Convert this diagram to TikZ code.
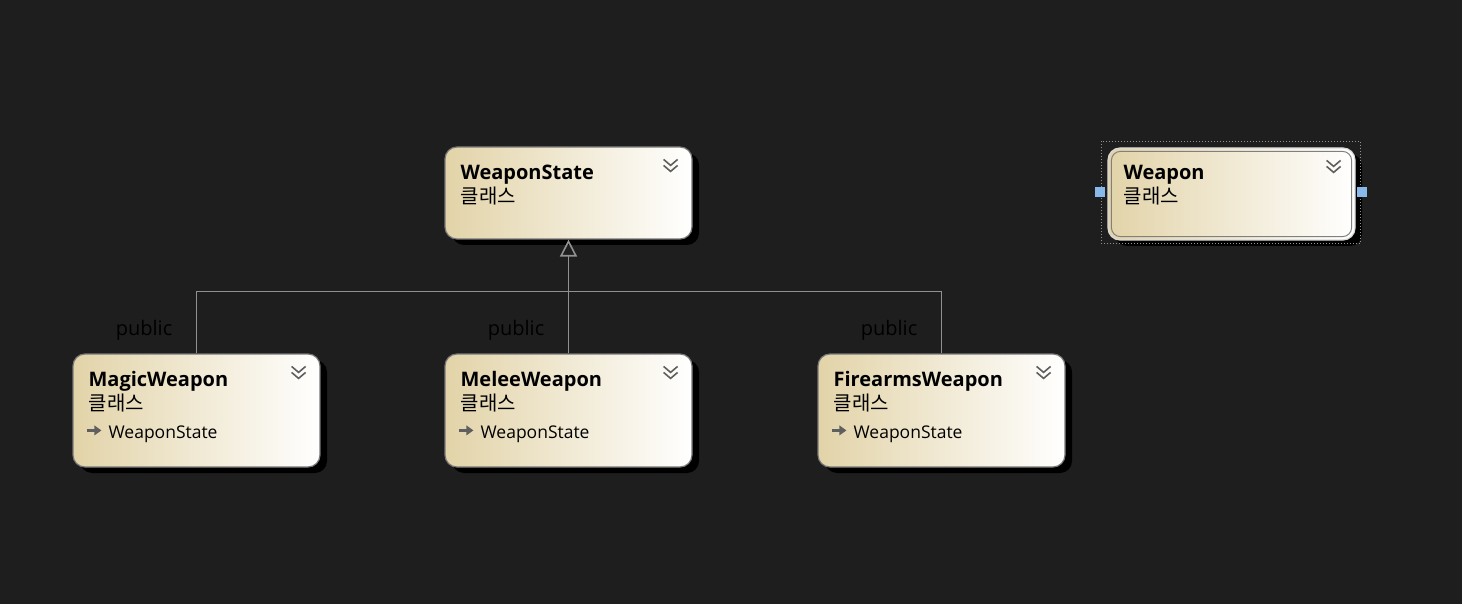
\documentclass[tikz,border=0pt]{standalone}
\usepackage{fontspec}
\setmainfont{Open Sans}
\newfontfamily\kr{Noto Sans CJK KR}
\usetikzlibrary{arrows.meta,calc,shadows,positioning}
\definecolor{bgdark}{RGB}{30,30,30}
\definecolor{boxtan}{RGB}{226,211,168}
\definecolor{edgegray}{RGB}{120,120,120}
\definecolor{linegray}{RGB}{145,145,145}
\definecolor{icongray}{RGB}{95,95,95}
\definecolor{handleblue}{RGB}{135,185,235}
\tikzset{
  classbox/.style={rectangle, rounded corners=12pt, draw=edgegray, line width=1.2pt,
    left color=boxtan, right color=white, minimum width=247pt, inner sep=0pt,
    drop shadow={shadow xshift=7pt, shadow yshift=-6pt, fill=black, opacity=1}},
  classname/.style={anchor=base west, inner sep=0pt, font=\fontsize{20}{23}\selectfont\bfseries},
  kind/.style={anchor=base west, inner sep=0pt, font=\kr\fontsize{20}{23}\selectfont},
  member/.style={anchor=base west, inner sep=0pt, font=\fontsize{17.5}{20}\selectfont},
  pub/.style={anchor=base east, inner sep=0pt, font=\fontsize{20}{23}\selectfont, text=black},
  inherit/.style={draw=linegray, line width=1.6pt},
  handle/.style={rectangle, fill=handleblue, minimum size=10pt, inner sep=0pt},
}
% double chevron in the top right corner of a box
\newcommand\expander[1]{%
  \draw[icongray, line width=1.6pt] ($(#1.north east)+(-29,13)$) -- ++(7,6) -- ++(7,-6)
    ($(#1.north east)+(-29,19)$) -- ++(7,6) -- ++(7,-6);}
% base class marker in front of a member line
\newcommand\baseicon[1]{%
  \draw[icongray, line width=2.6pt] ($(#1.north west)+(15,77)$) -- ++(8,0);
  \fill[icongray] ($(#1.north west)+(22,72)$) -- ++(7,5) -- ++(-7,5) -- cycle;}

\begin{document}
\begin{tikzpicture}[x=1pt,y=-1pt]
    \fill[bgdark] (0,0) rectangle (1462,604);
    \useasboundingbox (0,0) rectangle (1462,604);

    % base class
    \node[classbox, minimum height=92pt] (ws) at (568.5,193) {};
    \node[classname] (wsname) at ($(ws.north west)+(16,33)$) {WeaponState};
    \node[kind] (wskind) at ($(ws.north west)+(16,57)$) {클래스};
    \expander{ws}

    % derived classes
    \node[classbox, minimum height=113pt] (magic) at (196.5,410.5) {};
    \node[classbox, minimum height=113pt] (melee) at (568.5,410.5) {};
    \node[classbox, minimum height=113pt] (fire) at (941.5,410.5) {};
    \node[classname] (magicname) at ($(magic.north west)+(16,33)$) {MagicWeapon};
    \node[classname] (meleename) at ($(melee.north west)+(16,33)$) {MeleeWeapon};
    \node[classname] (firename) at ($(fire.north west)+(16,33)$) {FirearmsWeapon};
    \node[kind] (magickind) at ($(magic.north west)+(16,57)$) {클래스};
    \node[kind] (meleekind) at ($(melee.north west)+(16,57)$) {클래스};
    \node[kind] (firekind) at ($(fire.north west)+(16,57)$) {클래스};
    \node[member] (magicbase) at ($(magic.north west)+(36,85)$) {WeaponState};
    \node[member] (meleebase) at ($(melee.north west)+(36,85)$) {WeaponState};
    \node[member] (firebase) at ($(fire.north west)+(36,85)$) {WeaponState};
    \baseicon{magic}
    \baseicon{melee}
    \baseicon{fire}
    \expander{magic}
    \expander{melee}
    \expander{fire}

    % selected class
    \node[classbox, draw=gray!30, minimum height=92pt] (weapon) at (1231.5,194) {};
    \draw[gray, line width=1pt, rounded corners=9pt] ($(weapon.north west)+(4,4)$) rectangle ($(weapon.south east)+(-4,-4)$);
    \node[classname] (weaponname) at ($(weapon.north west)+(16,32)$) {Weapon};
    \node[kind] (weaponkind) at ($(weapon.north west)+(16,56)$) {클래스};
    \expander{weapon}
    \draw[gray!85, line width=1pt, dotted] ($(weapon.north west)+(-6,-6)$) rectangle ($(weapon.south east)+(5,3)$);
    \node[handle] (hleft) at ($(weapon.west)+(-7,-2)$) {};
    \node[handle] (hright) at ($(weapon.east)+(6,-2)$) {};

    % inheritance
    \coordinate (split) at ($(ws.south)+(0,52)$);
    \draw[inherit] (magic.north) |- (split) -| (fire.north);
    \draw[inherit, -{Triangle[open, length=17pt, width=17pt]}] (melee.north) -- (ws.south);
    \node[pub] (pubmagic) at ($(magic.north)+(-24,-18)$) {public};
    \node[pub] (pubmelee) at ($(melee.north)+(-24,-18)$) {public};
    \node[pub] (pubfire) at ($(fire.north)+(-24,-18)$) {public};
\end{tikzpicture}
\end{document}
